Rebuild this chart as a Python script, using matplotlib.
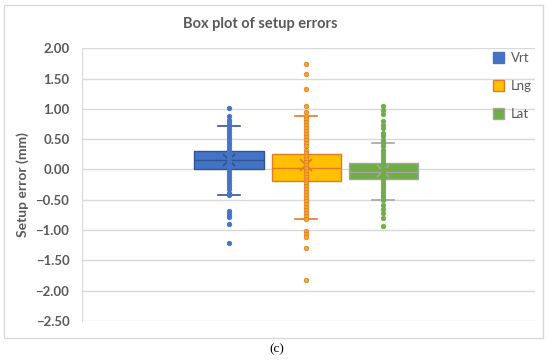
import matplotlib
matplotlib.use("Agg")
import matplotlib.pyplot as plt
from matplotlib.patches import Rectangle, Patch

plt.rcParams['font.family'] = ['Lato', 'DejaVu Sans']

series = ["Vrt", "Lng", "Lat"]

# box statistics
q1 = [0.00, -0.19, -0.15]
med = [0.15, 0.03, -0.04]
q3 = [0.30, 0.25, 0.10]
whis_lo = [-0.42, -0.82, -0.50]
whis_hi = [0.72, 0.88, 0.43]
means = [0.16, 0.08, -0.02]

# inner points / outliers
vrt_pts = [1.02, 0.88, 0.82, 0.77, 0.72, 0.67, 0.62, 0.57, 0.52, 0.47, 0.42,
           0.37, 0.32, 0.27, 0.22, 0.17, 0.12, 0.07, 0.02, -0.03, -0.08, -0.13,
           -0.18, -0.23, -0.28, -0.33, -0.38, -0.42, -0.69, -0.74, -0.79, -0.90,
           -1.22]
lng_pts = [1.74, 1.58, 1.33, 1.05, 0.95, 0.88, 0.83, 0.78, 0.73, 0.68, 0.63,
           0.58, 0.53, 0.48, 0.43, 0.38, 0.33, 0.28, 0.23, 0.18, 0.13, 0.08,
           0.03, -0.02, -0.07, -0.12, -0.17, -0.22, -0.27, -0.32, -0.37, -0.42,
           -0.47, -0.52, -0.57, -0.62, -0.67, -0.72, -0.77, -0.82, -1.01, -1.06,
           -1.11, -1.30, -1.82]
lat_pts = [1.04, 0.98, 0.92, 0.80, 0.74, 0.69, 0.60, 0.55, 0.49, 0.43, 0.38,
           0.33, 0.28, 0.23, 0.18, 0.13, 0.08, 0.03, -0.02, -0.07, -0.12, -0.17,
           -0.22, -0.27, -0.32, -0.37, -0.42, -0.46, -0.50, -0.58, -0.65, -0.72,
           -0.80, -0.94]
points = [vrt_pts, lng_pts, lat_pts]

yticks = [2.0, 1.5, 1.0, 0.5, 0.0, -0.5, -1.0, -1.5, -2.0, -2.5]

fills = ["#4472C4", "#FFC000", "#70AD47"]
edges = ["#2F5597", "#E07B28", "#A5A5A5"]
dots = ["#4472C4", "#F5A623", "#70AD47"]
dot_edges = ["#4472C4", "#E07B28", "#70AD47"]
grey = "#595959"

fig = plt.figure(figsize=(5.5, 3.61), dpi=100)
ax = fig.add_axes([82 / 550, 1 - 321 / 361, (535 - 82) / 550, (321 - 48.3) / 361])

# outer chart border
fig.patches.append(Rectangle((4 / 550, 1 - 338 / 361), 539 / 550, 333 / 361,
                             transform=fig.transFigure, fill=False,
                             edgecolor="#D9D9D9", lw=1))

positions = [1, 2, 3]
for i, name in enumerate(series):
    st = [dict(med=med[i], q1=q1[i], q3=q3[i], whislo=whis_lo[i],
               whishi=whis_hi[i], mean=means[i], fliers=[], label=name)]
    ax.bxp(st, positions=[positions[i]], widths=0.9, patch_artist=True,
           showmeans=True, meanline=False,
           boxprops=dict(facecolor=fills[i], edgecolor=edges[i], lw=1),
           medianprops=dict(color=edges[i], lw=1),
           whiskerprops=dict(color=edges[i], lw=1),
           capprops=dict(color=edges[i], lw=1.2),
           capwidths=0.28,
           meanprops=dict(marker="x", markeredgecolor=edges[i], markersize=8,
                          markeredgewidth=1.2),
           zorder=2)
    ax.scatter([positions[i]] * len(points[i]), points[i], s=11, color=dots[i],
               edgecolors=dot_edges[i], linewidths=0.5, zorder=3)

ax.set_xlim(2 - 2.91, 2 + 2.97)
ax.set_ylim(-2.5, 2.0)
ax.set_yticks(yticks)
ax.set_yticklabels([f"{t:.2f}".replace("-", "\u2212") for t in yticks])
ax.set_xticks([])
ax.grid(axis="y", color="#D9D9D9", lw=1)
ax.set_axisbelow(True)
for s in ["top", "right", "bottom"]:
    ax.spines[s].set_visible(False)
ax.spines["left"].set_color("#D9D9D9")
ax.tick_params(axis="y", length=0, pad=9, labelsize=9.5, labelcolor=grey)
for lbl in ax.get_yticklabels():
    lbl.set_fontweight("bold")

ax.set_ylabel("Setup error (mm)", fontsize=10, fontweight="bold", color=grey, labelpad=5)
fig.text(0.474, 1 - 24 / 361, "Box plot of setup errors", ha="center", va="center",
         fontsize=10.5, fontweight="bold", color=grey)

handles = [Patch(facecolor=fills[i], edgecolor=edges[i] if i != 0 else fills[i])
           for i in range(3)]
leg = ax.legend(handles, series, loc="upper left", bbox_to_anchor=(0.88, 1.03),
                frameon=False, fontsize=9.5, labelcolor=grey, handlelength=0.9,
                handleheight=0.9, labelspacing=1.2, handletextpad=0.5)

fig.text(277 / 550, 1 - 349 / 361, "(c)", ha="center", va="center", fontsize=9.5,
         family="Liberation Serif", color="black")

fig.savefig("out.png", dpi=100)
